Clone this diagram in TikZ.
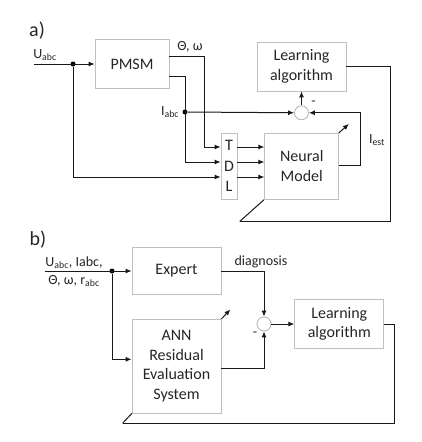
\documentclass[tikz,border=0pt]{standalone}
\usepackage{fontspec}
\setmainfont{Carlito}
\usepackage{tikz}
\usetikzlibrary{arrows.meta, positioning, calc, backgrounds}
\tikzset{
    block/.style={
        rectangle, draw=gray!50, fill=white, line width=0.8pt,
        align=center, inner sep=0pt, text=black!85,
        font=\fontsize{16}{19.5}\selectfont
    },
    sumpt/.style={circle, draw=gray!60, line width=0.8pt, fill=white, minimum size=14pt, inner sep=0pt},
    dot/.style={circle, fill=black, minimum size=5pt, inner sep=0pt},
    line/.style={draw, -{Latex[length=6pt,width=5pt]}, line width=1pt, black!90},
    wire/.style={draw, line width=1pt, black!90},
    lbl/.style={font=\fontsize{14}{16}\selectfont, text=black!85, inner sep=1pt},
    tag/.style={font=\fontsize{20}{22}\selectfont, text=black!85}
}
\begin{document}
\begin{tikzpicture}[x=1pt, y=1pt, node distance=27pt]
    \useasboundingbox (0,0) rectangle (422,-442);

    % Nodes a)
    \node [tag] (taga) at (37,-31) {a)};
    \node [block, minimum width=74pt, minimum height=49pt] (pmsm) at (132,-64) {PMSM};
    \node [block, minimum width=89pt, minimum height=49pt] (learna) at (301.5,-66.5) {Learning\\algorithm};
    \node [sumpt, below=14pt of learna] (suma) {};
    \node [block, minimum width=16pt, minimum height=66pt, font=\fontsize{16}{20.5}\selectfont] (tdl) at (229,-166) {T\\D\\L};
    \node [block, right=of tdl, minimum width=74pt, minimum height=66pt] (neural) {Neural\\Model};
    \coordinate (ina) at (34,-64);
    \node [dot] (ja) at (73,-64) {};
    \node [dot] (jb) at (185,-112) {};
    \node [lbl] (ulbl) at (45,-55) {U\textsubscript{abc}};
    \node [lbl] (thlbl) at (190,-47) {Θ, ω};
    \node [lbl, left=2pt of jb] (ilbl) {I\textsubscript{abc}};
    \node [lbl] (minusa) at ([xshift=12pt,yshift=10pt]suma.center) {-};
    \node [lbl] (iest) at (377,-140) {I\textsubscript{est}};
    \coordinate (fba) at ($(neural.south west)!-0.33!(neural.north east)$);
    \coordinate (adpa) at ($(neural.north east)!-0.13!(neural.south west)$);

    % Edges a)
    \draw [line] (ina) -- (pmsm);
    \draw [line] ([yshift=8pt]pmsm.east) -- ++(35,0) |- ([yshift=19pt]tdl.west);
    \draw [line] ([yshift=-12pt]pmsm.east) -- ++(16,0) |- ([yshift=4pt]tdl.west);
    \draw [line] (ja) |- ([yshift=-11pt]tdl.west);
    \draw [line] (jb) -- (suma);
    \foreach \dy in {19,4,-11}
        \draw [line] ([yshift=\dy pt]tdl.east) -- ([yshift=\dy pt]neural.west);
    \draw [line] ([yshift=1pt]neural.east) -- ++(21,0) |- (suma.east);
    \draw [line] (suma) -- (learna);
    \draw [wire] (learna.east) -- ++(44,0) |- (fba);
    \begin{scope}[on background layer]
        \draw [line] (fba) -- (adpa);
    \end{scope}

    % Nodes b)
    \node [tag] (tagb) at (38,-240) {b)};
    \node [block, minimum width=89pt, minimum height=47pt] (expert) at (176.5,-271) {Expert};
    \node [block, below=24pt of expert, minimum width=89pt, minimum height=94pt] (ann) {ANN\\Residual\\Evaluation\\System};
    \node [sumpt] (sumb) at (264,-324) {};
    \node [block, right=23pt of sumb, minimum width=89pt, minimum height=49pt] (learnb) {Learning\\algorithm};
    \coordinate (inb) at (45,-271);
    \node [dot] (jc) at (112,-271) {};
    \node [lbl, align=center] (inlbl) at (74,-272) {U\textsubscript{abc}, Iabc,\\[2pt]Θ, ω, r\textsubscript{abc}};
    \node [lbl] (diag) at (261,-262) {diagnosis};
    \node [lbl] (minusb) at ([xshift=-9pt,yshift=-10pt]sumb.center) {-};
    \coordinate (fbb) at ($(ann.south west)!-0.1!(ann.north east)$);
    \coordinate (adpb) at ($(ann.north east)!-0.1!(ann.south west)$);

    % Edges b)
    \draw [line] (inb) -- (expert);
    \draw [line] (jc) |- ([yshift=7pt]ann.west);
    \draw [line] (expert.east) -| (sumb.north);
    \draw [line] ([yshift=-2pt]ann.east) -| (sumb.south);
    \draw [line] (sumb) -- (learnb);
    \draw [wire] (learnb.east) -- ++(10,0) |- (fbb);
    \begin{scope}[on background layer]
        \draw [line] (fbb) -- (adpb);
    \end{scope}
\end{tikzpicture}
\end{document}
